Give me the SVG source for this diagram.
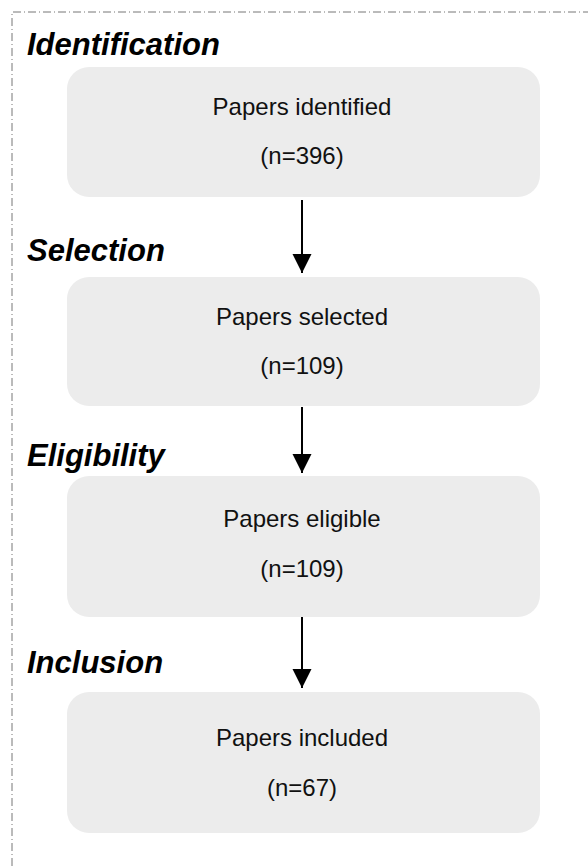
<svg xmlns="http://www.w3.org/2000/svg" width="588" height="866" viewBox="0 0 588 866">
  <style>
    .frame { fill: none; stroke: #777; stroke-width: 1; stroke-dasharray: 8 3 1 3; }
    .stage { font-family: "Liberation Sans", Arial, sans-serif; font-weight: bold; font-style: italic; font-size: 31px; fill: #000; }
    .box { fill: #ececec; stroke: none; }
    .label { font-family: "Liberation Sans", Arial, sans-serif; font-size: 24px; fill: #111; text-anchor: middle; }
    .conn { stroke: #000; stroke-width: 2; fill: none; }
  </style>
  <defs>
    <marker id="arrow" markerUnits="userSpaceOnUse" markerWidth="20" markerHeight="20" viewBox="0 0 20 20" refX="19" refY="10" orient="auto">
      <path d="M0,0.5 L19,10 L0,19.5 Z" fill="#000"/>
    </marker>
  </defs>
  <rect width="588" height="866" fill="#fff"/>
  <path class="frame" d="M12,866 V12 H588"/>

  <g id="stages">
    <text class="stage" x="27" y="55">Identification</text>
    <text class="stage" x="27" y="261">Selection</text>
    <text class="stage" x="27" y="466">Eligibility</text>
    <text class="stage" x="27" y="673">Inclusion</text>
  </g>

  <g id="node-identified">
    <rect class="box" x="67" y="67" width="473" height="130" rx="22"/>
    <text class="label" x="302" y="115">Papers identified</text>
    <text class="label" x="302" y="164">(n=396)</text>
  </g>
  <g id="node-selected">
    <rect class="box" x="67" y="277" width="473" height="129" rx="22"/>
    <text class="label" x="302" y="325">Papers selected</text>
    <text class="label" x="302" y="374">(n=109)</text>
  </g>
  <g id="node-eligible">
    <rect class="box" x="67" y="476" width="473" height="141" rx="22"/>
    <text class="label" x="302" y="527">Papers eligible</text>
    <text class="label" x="302" y="577">(n=109)</text>
  </g>
  <g id="node-included">
    <rect class="box" x="67" y="692" width="473" height="141" rx="22"/>
    <text class="label" x="302" y="746">Papers included</text>
    <text class="label" x="302" y="796">(n=67)</text>
  </g>

  <g id="connectors">
    <line class="conn" x1="302" y1="200" x2="302" y2="273" marker-end="url(#arrow)"/>
    <line class="conn" x1="302" y1="407" x2="302" y2="473" marker-end="url(#arrow)"/>
    <line class="conn" x1="302" y1="617" x2="302" y2="688" marker-end="url(#arrow)"/>
  </g>
</svg>
